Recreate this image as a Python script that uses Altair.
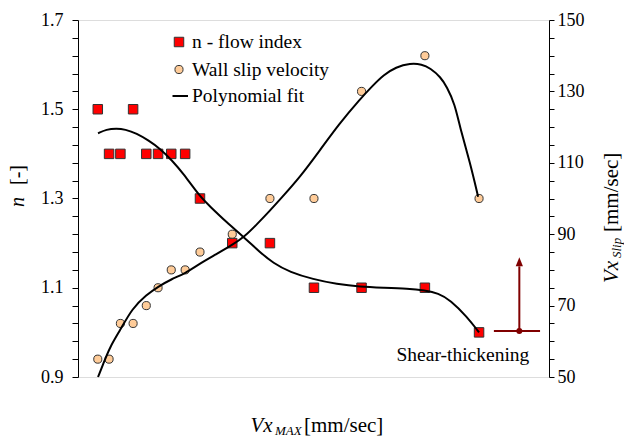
import altair as alt
import pandas as pd

# ---------------- data ----------------
vx_max = [584, 632, 680, 734, 790, 840, 896, 955, 1018, 1155, 1315, 1502, 1704, 1973, 2203]
n_index = [1.5, 1.4, 1.4, 1.5, 1.4, 1.4, 1.4, 1.4, 1.3, 1.2, 1.2, 1.1, 1.1, 1.1, 1.0]
vx_slip = [55, 55, 65, 65, 70, 75, 80, 80, 85, 90, 100, 100, 130, 140, 100]

n_fit_x = [585, 620, 664, 700, 749, 800, 848, 900, 947, 1018, 1061, 1130, 1205, 1270, 1329,
           1400, 1498, 1600, 1697, 1800, 1900, 1973, 2030, 2081, 2152, 2203]
n_fit_y = [1.446, 1.455, 1.457, 1.455, 1.446, 1.43, 1.412, 1.385, 1.356, 1.304, 1.282, 1.247,
           1.213, 1.181, 1.155, 1.135, 1.119, 1.108, 1.102, 1.100, 1.098, 1.094, 1.088, 1.0725,
           1.035, 1.0]

slip_fit_x = [585, 605, 636, 680, 730, 790, 840, 896, 955, 1018, 1085, 1155, 1205, 1260, 1315,
              1356, 1443, 1528, 1610, 1697, 1750, 1797, 1850, 1911, 1960, 1996, 2040, 2066,
              2100, 2122, 2165, 2199]
slip_fit_y = [50, 53.3, 58.5, 63.2, 69.2, 73, 75.3, 77.4, 79, 81.8, 84.3, 87, 89.2, 92.8, 96.6,
              99.6, 106.0, 113.6, 121.0, 127.8, 131.5, 134.6, 136.8, 137.9, 137.6, 136.5, 134,
              131.3, 126.5, 119.9, 110, 100.5]

x_ticks = [500, 600, 700, 800, 900, 1000, 1100, 1200, 1300, 1400, 1500, 1600, 1700, 1800,
           1900, 2000, 2100, 2200, 2300, 2400, 2500]
n_ticks = [0.9, 0.94, 0.98, 1.02, 1.06, 1.1, 1.14, 1.18, 1.22, 1.26, 1.3, 1.34, 1.38, 1.42,
           1.46, 1.5, 1.54, 1.58, 1.62, 1.66, 1.7]
slip_ticks = [50, 55, 60, 65, 70, 75, 80, 85, 90, 95, 100, 105, 110, 115, 120, 125, 130, 135,
              140, 145, 150]

legend_labels = ["n - flow index", "Wall slip velocity", "Polynomial fit"]
annotation_text = ["Shear-thickening"]

# arrow annotation (in data units: x, slip)
arrow_h_x = [2266]
arrow_h_x2 = [2462]
arrow_y = [62.9]
arrow_x = [2374]
arrow_top = [81.0]
arrow_head = [82.3]

FONT = "Liberation Serif"
RED = "#ff0000"
PEACH = "#ffcc99"
EDGE = "#333333"
ARROW = "#800000"

pts = pd.DataFrame({"x": vx_max, "n": n_index, "slip": vx_slip})
nfit = pd.DataFrame({"x": n_fit_x, "n": n_fit_y})
sfit = pd.DataFrame({"x": slip_fit_x, "slip": slip_fit_y})

xscale = alt.Scale(domain=[500, 2500], nice=False, zero=False)
nscale = alt.Scale(domain=[0.9, 1.7], nice=False, zero=False)
sscale = alt.Scale(domain=[50, 150], nice=False, zero=False)

x_axis = alt.Axis(values=x_ticks, format="d",
                  labelExpr="datum.value % 500 == 0 ? datum.label : ''",
                  tickSize=6, labelPadding=11, title=None, grid=False,
                  labelFont=FONT, labelFontSize=18, labelColor="black",
                  domainColor="black", tickColor="black", labelFlush=False)
n_axis = alt.Axis(values=n_ticks, format=".1f", orient="left",
                  labelExpr="abs((datum.value - 0.9) / 0.2 - round((datum.value - 0.9) / 0.2)) < 0.001 ? datum.label : ''",
                  tickSize=6, labelPadding=9, title=None, grid=False,
                  labelFont=FONT, labelFontSize=18, labelColor="black",
                  domainColor="black", tickColor="black", labelFlush=False)
s_axis = alt.Axis(values=slip_ticks, format="d", orient="right",
                  labelExpr="datum.value % 20 == 10 ? datum.label : ''",
                  tickSize=5, labelPadding=3, title=None, grid=False,
                  labelFont=FONT, labelFontSize=18, labelColor="black",
                  domainColor="black", tickColor="black", labelFlush=False)

sq = alt.Chart(pts).mark_square(size=90, fill=RED, stroke=EDGE, strokeWidth=1, opacity=1).encode(
    x=alt.X("x:Q", scale=xscale, axis=x_axis),
    y=alt.Y("n:Q", scale=nscale, axis=n_axis),
)
nline = alt.Chart(nfit).mark_line(color="black", strokeWidth=2, interpolate="basis").encode(
    x=alt.X("x:Q", scale=xscale, axis=None),
    y=alt.Y("n:Q", scale=nscale, axis=n_axis),
)
left = alt.layer(sq, nline)

circ = alt.Chart(pts).mark_circle(size=66, fill=PEACH, stroke=EDGE, strokeWidth=1, opacity=1).encode(
    x=alt.X("x:Q", scale=xscale, axis=None),
    y=alt.Y("slip:Q", scale=sscale, axis=s_axis),
)
sline = alt.Chart(sfit).mark_line(color="black", strokeWidth=2, interpolate="basis").encode(
    x=alt.X("x:Q", scale=xscale, axis=None),
    y=alt.Y("slip:Q", scale=sscale, axis=s_axis),
)
adf = pd.DataFrame({"hx": arrow_h_x, "hx2": arrow_h_x2, "y": arrow_y, "vx": arrow_x,
                    "top": arrow_top, "head": arrow_head})
arr_h = alt.Chart(adf).mark_rule(color=ARROW, strokeWidth=2).encode(
    x=alt.X("hx:Q", scale=xscale, axis=None), x2="hx2:Q",
    y=alt.Y("y:Q", scale=sscale, axis=s_axis))
arr_v = alt.Chart(adf).mark_rule(color=ARROW, strokeWidth=2).encode(
    x=alt.X("vx:Q", scale=xscale, axis=None),
    y=alt.Y("y:Q", scale=sscale, axis=s_axis), y2="top:Q")
arr_head = alt.Chart(adf).mark_point(shape="M0,-1L0.8,1L-0.8,1Z", size=81, filled=True,
                                     color=ARROW, opacity=1).encode(
    x=alt.X("vx:Q", scale=xscale, axis=None),
    y=alt.Y("head:Q", scale=sscale, axis=s_axis))
arr_dot = alt.Chart(adf).mark_circle(size=36, color=ARROW, opacity=1).encode(
    x=alt.X("vx:Q", scale=xscale, axis=None),
    y=alt.Y("y:Q", scale=sscale, axis=s_axis))
right = alt.layer(circ, sline, arr_h, arr_v, arr_head, arr_dot)

one = pd.DataFrame({"a": [0]})
leg_sq = alt.Chart(one).mark_square(size=90, fill=RED, stroke=EDGE, strokeWidth=1, opacity=1).encode(
    x=alt.value(101), y=alt.value(22))
leg_ci = alt.Chart(one).mark_circle(size=66, fill=PEACH, stroke=EDGE, strokeWidth=1, opacity=1).encode(
    x=alt.value(101), y=alt.value(49.5))
leg_ln = alt.Chart(one).mark_rule(color="black", strokeWidth=2).encode(
    x=alt.value(94.5), x2=alt.value(110), y=alt.value(76))
leg_txt = alt.Chart(pd.DataFrame({"t": legend_labels, "py": [22, 49.5, 76]})).mark_text(
    font=FONT, fontSize=19.5, align="left", baseline="middle", color="black").encode(
    x=alt.value(114), y=alt.Y("py:Q", scale=None), text="t:N")

ann = alt.Chart(pd.DataFrame({"t": annotation_text})).mark_text(
    font=FONT, fontSize=19.5, align="left", baseline="alphabetic", color="black").encode(
    x=alt.value(318.5), y=alt.value(341), text="t:N")

def txt(s, x, y, size, italic=False, angle=0):
    return alt.Chart(pd.DataFrame({"t": [s]})).mark_text(
        font=FONT, fontSize=size, align="left", baseline="alphabetic", color="black",
        fontStyle="italic" if italic else "normal", angle=angle).encode(
        x=alt.value(x), y=alt.value(y), text="t:N")

titles = [
    txt("Vx", 172.5, 412, 21, italic=True),
    txt("MAX", 197, 415, 13, italic=True),
    txt("[mm/sec]", 226, 412, 21),
    txt("n", -54.5, 187, 20, italic=True, angle=270),
    txt("[-]", -54.5, 165, 20, angle=270),
    txt("Vx", 540, 263, 21, italic=True, angle=270),
    txt("Slip", 543, 238, 13, italic=True, angle=270),
    txt("[mm/sec]", 540, 212, 21, angle=270),
]

chart = alt.layer(left, right).resolve_scale(y="independent")
chart = alt.layer(chart, leg_sq, leg_ci, leg_ln, leg_txt, ann, *titles).properties(
    width=471, height=357,
    autosize=alt.AutoSizeParams(type="none"),
    padding={"left": 78, "top": 20, "right": 75, "bottom": 61},
).configure_view(stroke="black", strokeWidth=1).configure(background="white")

chart.save("out.html", embed_options={"renderer": "svg", "actions": False})
